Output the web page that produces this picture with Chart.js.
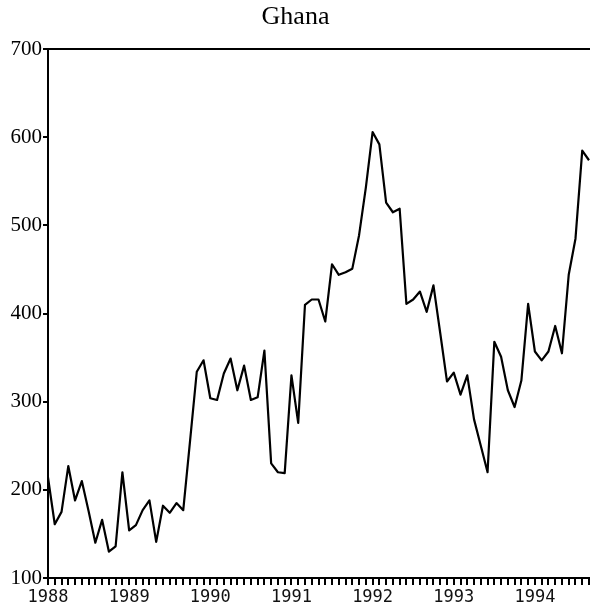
<!DOCTYPE html>
<html>
<head>
<meta charset="utf-8">
<script src="https://cdn.jsdelivr.net/npm/chart.js@4"></script>
<style>
    html, body { margin: 0; padding: 0; background: #fff; overflow: hidden; }
    #wrap { width: 591px; height: 610px; position: relative; }
</style>
</head>
<body>
<div id="wrap"><canvas id="myChart"></canvas></div>
<script>
// years shown on the x axis (one tick per month, label on January)
var tick_years = ['1988', '1989', '1990', '1991', '1992', '1993', '1994'];
// monthly values, Jan 1988 .. Sep 1994
var vals_1988 = [214, 161, 175, 227, 188, 210, 176, 140, 166, 130, 136, 220];
var vals_1989 = [154, 160, 177, 188, 141, 182, 174, 185, 177, 255, 334, 347];
var vals_1990 = [304, 302, 332, 349, 313, 341, 302, 305, 358, 230, 220, 219];
var vals_1991 = [330, 276, 410, 416, 416, 391, 456, 444, 447, 451, 489, 543];
var vals_1992 = [606, 592, 526, 515, 519, 411, 416, 425, 402, 432, 378, 323];
var vals_1993 = [333, 308, 330, 280, 250, 220, 368, 351, 313, 294, 324, 411];
var vals_1994 = [357, 347, 357, 386, 355, 444, 485, 585, 574];
var y_ticks = [100, 200, 300, 400, 500, 600, 700];

var ghana = [].concat(vals_1988, vals_1989, vals_1990, vals_1991, vals_1992, vals_1993, vals_1994);

// one category per month
var months = [];
for (let y = 0; y < tick_years.length; y++) {
    for (let m = 0; m < 12; m++) {
        if (months.length < ghana.length) {
            months.push(m == 0 ? tick_years[y] : '');
        }
    }
}

var ctx = document.getElementById('myChart');
var chart = new Chart(ctx, {
    type: 'line',
    data: {
        labels: months,
        datasets: [
            {
                label: 'Ghana',
                data: ghana,
                borderColor: '#000',
                borderWidth: 2.2,
                borderJoinStyle: 'round',
                pointRadius: 0,
                tension: 0,
                fill: false
            }
        ]
    },
    options: {
        responsive: true,
        maintainAspectRatio: false,
        animation: false,
        layout: { padding: 0 },
        scales: {
            x: {
                type: 'category',
                offset: false,
                grid: { display: true, drawOnChartArea: false, drawTicks: true, tickLength: 7, color: '#000', lineWidth: 2 },
                border: { display: true, color: '#000', width: 2 },
                ticks: {
                    autoSkip: false,
                    maxRotation: 0,
                    padding: 2,
                    color: '#111',
                    font: { family: 'DejaVu Sans Mono', size: 17 }
                },
                afterFit: function (scale) { scale.height = 32; }
            },
            x2: {
                type: 'linear',
                position: 'top',
                min: 0,
                max: 1,
                grid: { display: false },
                border: { display: true, color: '#000', width: 2 },
                ticks: { display: false },
                afterFit: function (scale) { scale.height = 0; }
            },
            y: {
                min: 100,
                max: 700,
                grid: { display: true, drawOnChartArea: false, drawTicks: true, tickLength: 5, color: '#000', lineWidth: 2 },
                border: { display: true, color: '#000', width: 2 },
                afterBuildTicks: function (scale) {
                    scale.ticks = y_ticks.map(v => ({ value: v }));
                },
                ticks: {
                    padding: 1,
                    color: '#000',
                    font: { family: 'Liberation Serif', size: 21 }
                },
                afterFit: function (scale) { scale.width = 48; }
            }
        },
        plugins: {
            legend: { display: false },
            tooltip: { enabled: false },
            title: {
                display: true,
                text: 'Ghana',
                color: '#000',
                font: { family: 'Liberation Serif', size: 26, weight: '500' },
                padding: { top: 2, bottom: 16 }
            }
        }
    }
});
</script>
</body>
</html>
